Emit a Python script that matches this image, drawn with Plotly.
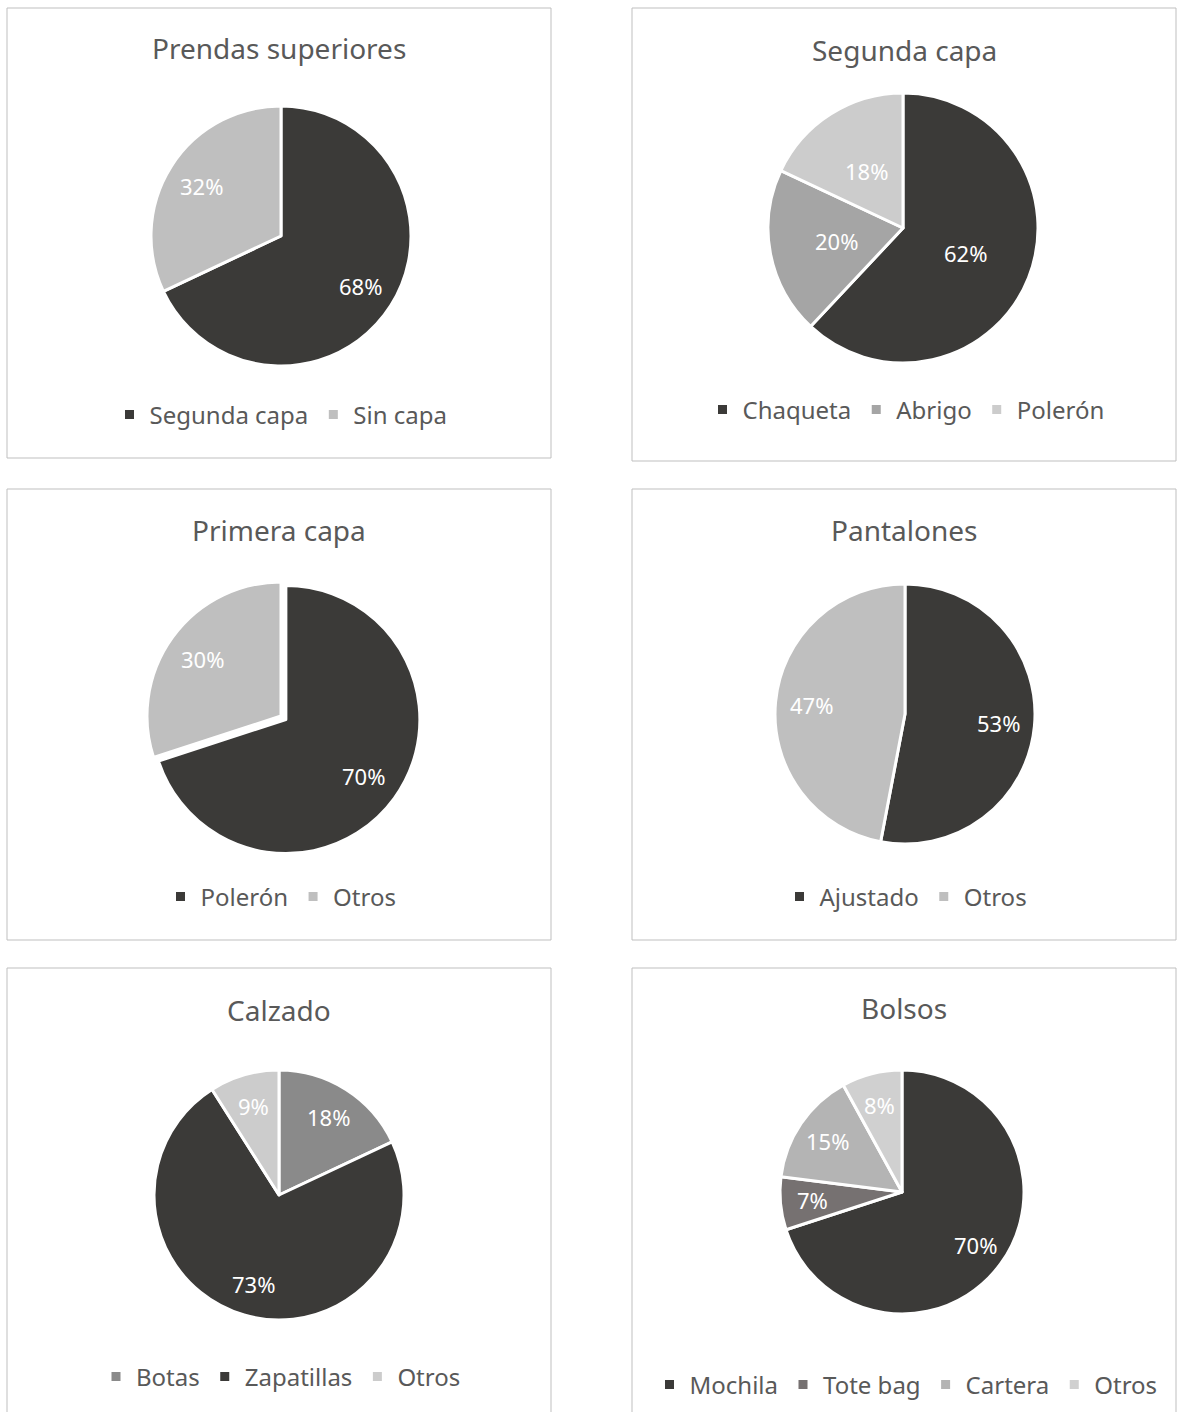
import math
import plotly.graph_objects as go

W, H = 1183, 1412

# ---------------- data ----------------
titles = ["Prendas superiores", "Segunda capa", "Primera capa", "Pantalones", "Calzado", "Bolsos"]

p1_labels = ["Segunda capa", "Sin capa"]
p1_values = [68, 32]
p2_labels = ["Chaqueta", "Abrigo", "Polerón"]
p2_values = [62, 20, 18]
p3_labels = ["Polerón", "Otros"]
p3_values = [70, 30]
p4_labels = ["Ajustado", "Otros"]
p4_values = [53, 47]
p5_labels = ["Botas", "Zapatillas", "Otros"]
p5_values = [18, 73, 9]
p6_labels = ["Mochila", "Tote bag", "Cartera", "Otros"]
p6_values = [70, 7, 15, 8]

DARK = "#3B3A38"
p1_colors = [DARK, "#BFBFBF"]
p2_colors = [DARK, "#A5A5A5", "#CCCCCC"]
p3_colors = [DARK, "#BFBFBF"]
p4_colors = [DARK, "#BFBFBF"]
p5_colors = ["#8A8A8A", DARK, "#CCCCCC"]
p6_colors = [DARK, "#767171", "#B4B4B4", "#D0D0D0"]

# ---------------- layout (pixels) ----------------
panels = [
    dict(labels=p1_labels, values=p1_values, colors=p1_colors, pull=[0, 0],
         box=(7, 8, 551, 458), c=(281, 236), r=130, ty=48, ly=415, lf=0.72),
    dict(labels=p2_labels, values=p2_values, colors=p2_colors, pull=[0, 0, 0],
         box=(632, 8, 1176, 461), c=(903, 228), r=135, ty=50, ly=410, lf=0.50),
    dict(labels=p3_labels, values=p3_values, colors=p3_colors, pull=[0.045, 0],
         box=(7, 489, 551, 940), c=(281, 716), r=134, ty=530, ly=897, lf=0.72),
    dict(labels=p4_labels, values=p4_values, colors=p4_colors, pull=[0, 0],
         box=(632, 489, 1176, 940), c=(905, 714), r=130, ty=530, ly=897, lf=0.72),
    dict(labels=p5_labels, values=p5_values, colors=p5_colors, pull=[0, 0, 0],
         box=(7, 968, 551, None), c=(279, 1195), r=125, ty=1010, ly=1377, lf=0.74),
    dict(labels=p6_labels, values=p6_values, colors=p6_colors, pull=[0, 0, 0, 0],
         box=(632, 968, 1176, None), c=(902, 1192), r=122, ty=1008, ly=1385, lf=0.74),
]

FONT = "Noto Sans"
GREY = "#595959"
BORDER = "#BFBFBF"
ZW = "\u200b"  # zero-width suffix keeps repeated legend labels distinct between pies


def px(x):
    return x / W


def py(y):
    return 1 - y / H


fig = go.Figure()
shapes = []
annotations = []
layout_legends = {}

for i, p in enumerate(panels):
    lname = "legend" if i == 0 else f"legend{i + 1}"
    cx, cy = p["c"]
    r = p["r"]
    half = r * (1 + max(p["pull"]))
    fig.add_trace(go.Pie(
        labels=[lab + ZW * i for lab in p["labels"]], values=p["values"], sort=False,
        direction="clockwise", rotation=0, pull=p["pull"],
        marker=dict(colors=p["colors"], line=dict(color="white", width=3)),
        textinfo="none",
        domain=dict(x=[px(cx - half), px(cx + half)], y=[py(cy + half), py(cy - half)]),
        legend=lname, hoverinfo="label+percent",
    ))
    # percentage labels placed along each slice's mid-angle
    total = sum(p["values"])
    cum = 0
    for v, pl in zip(p["values"], p["pull"]):
        th = (cum + v / 2) / total * 2 * math.pi
        d = p["lf"] * r + pl * r
        annotations.append(dict(
            text=f"{v}%", x=px(cx + d * math.sin(th)), y=py(cy - d * math.cos(th)),
            xref="paper", yref="paper", xanchor="center", yanchor="middle", showarrow=False,
            font=dict(family=FONT, size=22, color="white")))
        cum += v
    x0, y0, x1, y1 = p["box"]
    if y1 is not None:
        shapes.append(dict(type="rect", xref="paper", yref="paper",
                           x0=px(x0), x1=px(x1), y0=py(y1), y1=py(y0),
                           line=dict(color=BORDER, width=1)))
    else:
        shapes.append(dict(type="path", xref="paper", yref="paper",
                           path=f"M {px(x0)},{py(H + 5)} L {px(x0)},{py(y0)} L {px(x1)},{py(y0)} L {px(x1)},{py(H + 5)}",
                           line=dict(color=BORDER, width=1)))
    bx = (x0 + x1) / 2
    annotations.append(dict(text=titles[i], x=px(bx), y=py(p["ty"]), xref="paper", yref="paper",
                            xanchor="center", yanchor="middle", showarrow=False,
                            font=dict(family=FONT, size=28, color=GREY)))
    layout_legends[lname] = dict(
        orientation="h", x=px(bx + 2), y=py(p["ly"]), xanchor="center", yanchor="middle",
        font=dict(family=FONT, size=24, color=GREY), bgcolor="rgba(0,0,0,0)",
        traceorder="normal", itemwidth=30,
    )

fig.update_layout(
    width=W, height=H, margin=dict(l=0, r=0, t=0, b=0),
    paper_bgcolor="white", plot_bgcolor="white",
    shapes=shapes, annotations=annotations, showlegend=True,
    font=dict(family=FONT, color=GREY),
    **layout_legends,
)

fig.write_html("out.html", config={"displayModeBar": False},
               post_script="document.body.style.margin='0';")
